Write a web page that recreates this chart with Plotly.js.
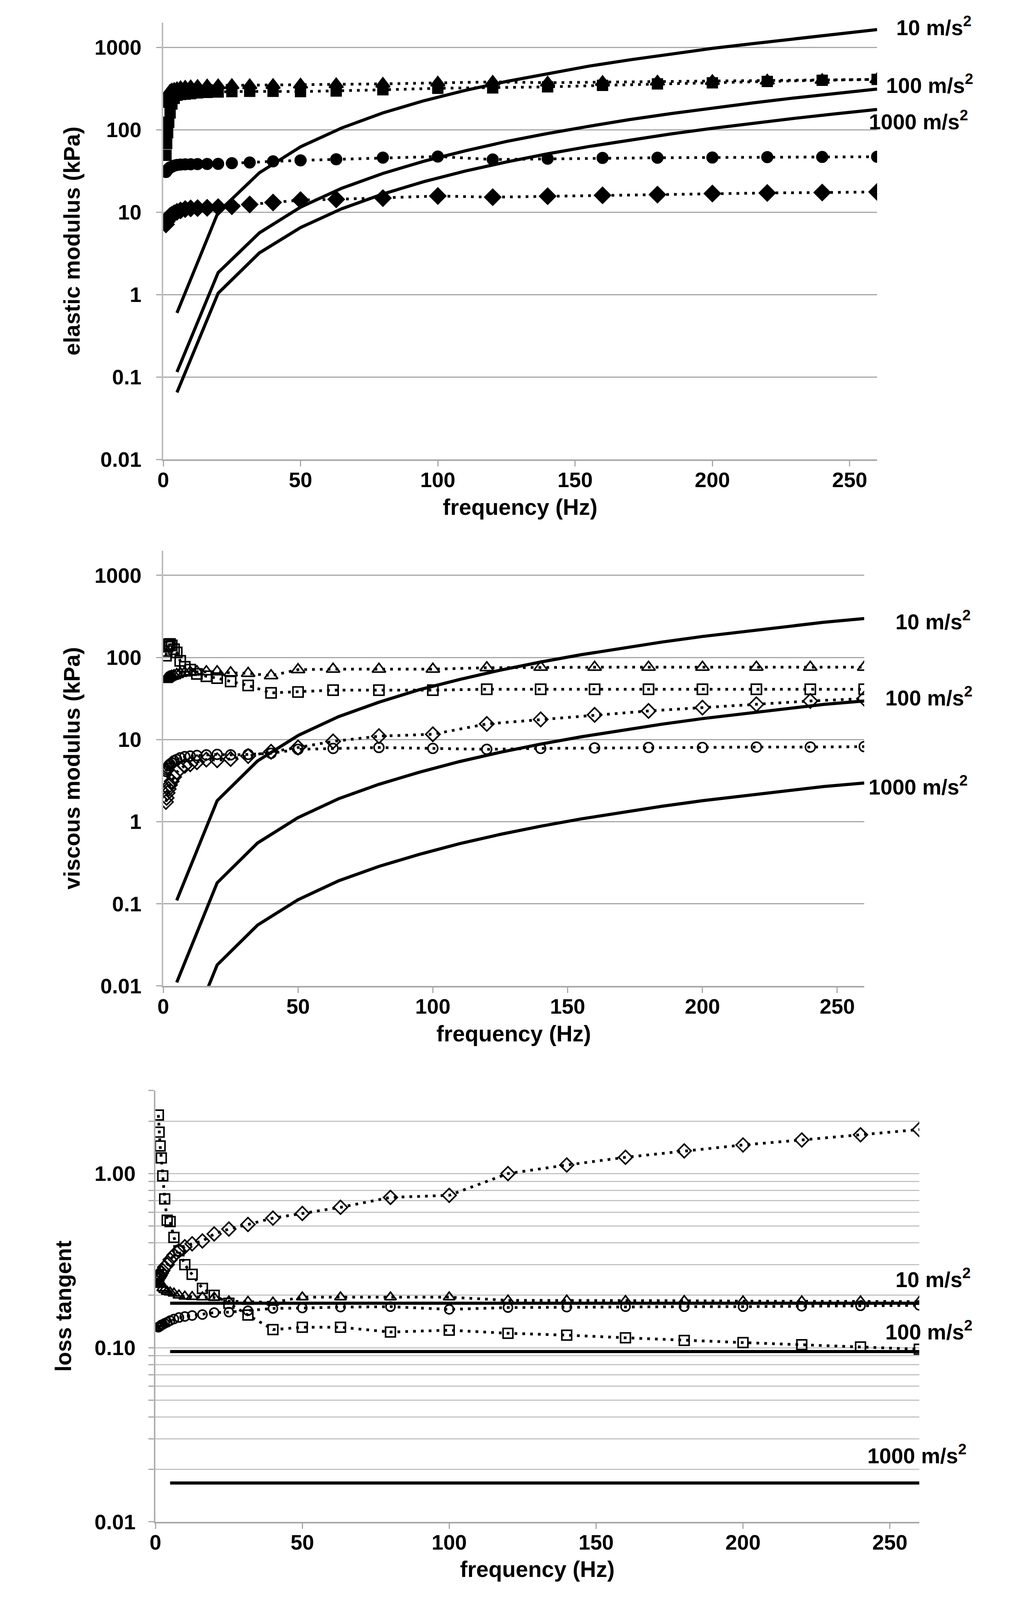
<!DOCTYPE html>
<html>
<head>
<meta charset="utf-8">
<script src="https://cdn.plot.ly/plotly-3.0.1.min.js"></script>
<style>html,body{margin:0;padding:0;background:#fff;overflow:hidden}</style>
</head>
<body>
<div id="chart"></div>
<script>
// measurement frequencies (Hz)
var freq = [1, 1.25, 1.6, 2, 2.5, 3.15, 4, 5, 6.3, 8, 10, 12.5, 16, 20, 25, 31.5, 40, 50, 63, 80, 100, 120, 140, 160, 180, 200, 220, 240, 260];
// model curve frequencies (Hz)
var modelFreq = [5, 20, 35, 50, 65, 80, 95, 110, 125, 140, 155, 170, 185, 200, 215, 230, 245, 260];
var lossModelFreq = [5, 260];

// elastic modulus (kPa)
var elasticTriangle = [205, 237, 262, 280, 296, 305, 310, 316, 326, 330, 334, 338, 342, 344, 346, 345, 347, 352, 355, 360, 372, 380, 372, 378, 382, 388, 393, 400, 408];
var elasticSquare = [49, 68, 92, 123, 160, 205, 240, 262, 268, 270, 274, 280, 284, 287, 290, 292, 292, 290, 295, 305, 318, 322, 331, 345, 360, 371, 385, 398, 408];
var elasticCircle = [30.7, 31.6, 32.6, 33.8, 34.9, 35.6, 36.7, 37.4, 37.8, 38.0, 38.1, 38.3, 38.4, 38.5, 39.3, 40.0, 41.3, 42.5, 43.8, 45.9, 47.3, 43.5, 44.5, 45.5, 45.7, 46.0, 46.5, 46.7, 47.0];
var elasticDiamond = [7.1, 7.7, 8.1, 8.5, 9.0, 9.3, 9.7, 10.1, 10.5, 10.9, 11.1, 11.2, 11.3, 11.5, 11.8, 12.4, 13.1, 14.0, 14.3, 14.8, 15.7, 15.2, 15.6, 16.0, 16.3, 16.8, 17.1, 17.3, 17.6];
var elasticModel10 = [0.6, 10, 30, 62, 105, 160, 225, 300, 385, 480, 590, 705, 830, 970, 1110, 1270, 1440, 1640];
var elasticModel100 = [0.115, 1.85, 5.6, 11.5, 19.5, 29.5, 41.5, 55.5, 72, 90, 110, 133, 157, 184, 212, 243, 276, 311];
var elasticModel1000 = [0.065, 1.04, 3.2, 6.5, 11, 16.6, 23.5, 31.5, 40.6, 51, 62.5, 75, 89, 104, 120, 137.5, 156, 176];

// viscous modulus (kPa)
var viscousTriangle = [54, 55, 56, 57, 58, 59, 60, 62, 64, 65, 66, 67, 67, 67, 65, 64, 60, 71, 72, 72, 72, 75, 76, 76, 76, 76, 76, 76, 76];
var viscousSquare = [105, 120, 135, 145, 146, 140, 126, 115, 91, 77, 71, 63, 59, 56, 51, 45.6, 37, 38, 40, 40, 40, 41, 41, 41, 41, 41, 41, 41, 41];
var viscousCircle = [4.1, 4.3, 4.5, 4.8, 5.0, 5.2, 5.5, 5.7, 6.0, 6.2, 6.3, 6.4, 6.5, 6.6, 6.5, 6.6, 6.8, 7.6, 7.8, 8.0, 7.8, 7.6, 7.8, 7.9, 8.0, 8.0, 8.1, 8.1, 8.2];
var viscousDiamond = [1.74, 1.95, 2.24, 2.5, 2.8, 3.1, 3.5, 4.0, 4.4, 4.8, 5.0, 5.3, 5.7, 5.6, 5.8, 6.3, 7.1, 8.0, 9.5, 11, 11.6, 15.5, 17.6, 20, 22.3, 24.5, 26.9, 29.5, 31.5];
var viscousModel10 = [0.11, 1.8, 5.5, 11.2, 19, 28.5, 40.5, 54, 70, 88, 108, 130, 154, 180, 207, 237, 268, 298];
var viscousModel100 = [0.011, 0.18, 0.55, 1.12, 1.9, 2.85, 4.0, 5.4, 7.0, 8.8, 10.8, 13, 15.4, 18, 20.7, 23.7, 26.8, 29.5];
var viscousModel1000 = [0.0011, 0.018, 0.055, 0.112, 0.19, 0.285, 0.40, 0.54, 0.70, 0.88, 1.08, 1.3, 1.54, 1.8, 2.07, 2.37, 2.68, 2.96];

// loss tangent
var lossTriangle = [0.25, 0.24, 0.235, 0.23, 0.22, 0.215, 0.21, 0.208, 0.205, 0.2, 0.197, 0.196, 0.195, 0.194, 0.185, 0.184, 0.182, 0.195, 0.195, 0.195, 0.195, 0.187, 0.187, 0.186, 0.186, 0.185, 0.185, 0.185, 0.184];
var lossSquare = [2.17, 1.73, 1.44, 1.23, 0.97, 0.715, 0.54, 0.53, 0.43, 0.36, 0.30, 0.264, 0.219, 0.20, 0.18, 0.154, 0.127, 0.131, 0.131, 0.123, 0.126, 0.121, 0.118, 0.114, 0.110, 0.107, 0.104, 0.101, 0.098];
var lossCircle = [0.131, 0.132, 0.133, 0.135, 0.136, 0.138, 0.14, 0.143, 0.146, 0.149, 0.151, 0.153, 0.155, 0.159, 0.160, 0.163, 0.168, 0.169, 0.171, 0.172, 0.166, 0.17, 0.171, 0.172, 0.172, 0.172, 0.173, 0.174, 0.175];
var lossDiamond = [0.25, 0.255, 0.26, 0.268, 0.277, 0.29, 0.30, 0.32, 0.34, 0.36, 0.38, 0.395, 0.41, 0.45, 0.48, 0.51, 0.555, 0.59, 0.64, 0.73, 0.75, 1.0, 1.12, 1.24, 1.35, 1.46, 1.56, 1.67, 1.79];
var lossModel10 = [0.180, 0.180];
var lossModel100 = [0.095, 0.095];
var lossModel1000 = [0.0167, 0.0167];

// axis ticks
var freqTicks = [0, 50, 100, 150, 200, 250];
var modulusTicks = [0.01, 0.1, 1, 10, 100, 1000];
var modulusTickText = ['0.01', '0.1', '1', '10', '100', '1000'];
var lossTicks = [0.01, 0.1, 1];
var lossTickText = ['0.01', '0.10', '1.00'];
var lossMinor = [0.02, 0.03, 0.04, 0.05, 0.06, 0.07, 0.08, 0.09, 0.2, 0.3, 0.4, 0.5, 0.6, 0.7, 0.8, 0.9, 2, 3];
var accelLabels = ['10 m/s<sup>2</sup>', '100 m/s<sup>2</sup>', '1000 m/s<sup>2</sup>'];

// positions below are measured on the 2594 x 4541 reference
var REF_W = 2594, REF_H = 4541;
var W = window.innerWidth || REF_W, H = window.innerHeight || REF_H;
var sy = H / REF_H;
function px(a) { return a / REF_W; }
function py(a) { return 1 - a / REF_H; }

var FONT = 'Liberation Sans, Arial, sans-serif';
var dotted = {color: '#000', width: 7, dash: '7px,13px'};

function dataTrace(x, y, ax, symbol, size) {
    return {
        x: x, y: y, xaxis: 'x' + ax, yaxis: 'y' + ax,
        type: 'scatter', mode: 'lines+markers',
        line: dotted,
        marker: {symbol: symbol, size: size, color: '#000', line: {color: '#000', width: 4}},
        showlegend: false
    };
}
function modelTrace(x, y, ax) {
    return {
        x: x, y: y, xaxis: 'x' + ax, yaxis: 'y' + ax,
        type: 'scatter', mode: 'lines',
        line: {color: '#000', width: 8},
        showlegend: false
    };
}

var traces = [
    dataTrace(freq, elasticTriangle, '', 'triangle-up', 31),
    dataTrace(freq, elasticSquare, '', 'square', 25),
    dataTrace(freq, elasticCircle, '', 'circle', 27),
    dataTrace(freq, elasticDiamond, '', 'diamond', 31),
    modelTrace(modelFreq, elasticModel10, ''),
    modelTrace(modelFreq, elasticModel100, ''),
    modelTrace(modelFreq, elasticModel1000, ''),

    dataTrace(freq, viscousTriangle, '2', 'triangle-up-open', 30),
    dataTrace(freq, viscousSquare, '2', 'square-open', 26),
    dataTrace(freq, viscousCircle, '2', 'circle-open', 25),
    dataTrace(freq, viscousDiamond, '2', 'diamond-open', 28),
    modelTrace(modelFreq, viscousModel10, '2'),
    modelTrace(modelFreq, viscousModel100, '2'),
    modelTrace(modelFreq, viscousModel1000, '2'),

    dataTrace(freq, lossTriangle, '3', 'triangle-up-open', 26),
    dataTrace(freq, lossSquare, '3', 'square-open', 25),
    dataTrace(freq, lossCircle, '3', 'circle-open', 23),
    dataTrace(freq, lossDiamond, '3', 'diamond-open', 27),
    modelTrace(lossModelFreq, lossModel10, '3'),
    modelTrace(lossModelFreq, lossModel100, '3'),
    modelTrace(lossModelFreq, lossModel1000, '3')
];

function boldFont(size) { return {family: FONT, size: size, color: '#000', weight: 700}; }

function xAxis(left, right, anchor) {
    return {
        domain: [px(left), px(right)], anchor: anchor,
        range: [0, 260], tickmode: 'array', tickvals: freqTicks,
        showgrid: false, zeroline: false,
        showline: true, linecolor: '#a8a8a8', linewidth: 4,
        ticks: 'outside', ticklen: Math.round(16 * sy), tickwidth: 3, tickcolor: '#a8a8a8',
        ticklabelstandoff: -12,
        tickfont: boldFont(54),
        title: {text: 'frequency (Hz)', font: boldFont(57), standoff: Math.round(24 * sy)}
    };
}
function yAxis(top, bottom, anchor, range, title) {
    return {
        type: 'log', domain: [py(bottom), py(top)], anchor: anchor,
        range: range, tickmode: 'array', tickvals: modulusTicks, ticktext: modulusTickText,
        showgrid: true, gridcolor: '#a8a8a8', gridwidth: 3,
        showline: true, linecolor: '#bdbdbd', linewidth: 4,
        ticks: 'outside', ticklen: 14, tickwidth: 3, tickcolor: '#a8a8a8',
        ticklabelstandoff: 27,
        tickfont: boldFont(54),
        title: {text: title, font: boldFont(57), standoff: 20}
    };
}

var y3 = yAxis(3095, 4319, 'x3', [-2, Math.log10(3)], 'loss tangent');
y3.tickvals = lossTicks;
y3.ticktext = lossTickText;
y3.gridcolor = '#c4c4c4';
y3.linecolor = '#b0b0b0';
y3.ticklabelstandoff = 22;
y3.title.standoff = 42;
y3.minor = {tickmode: 'array', tickvals: lossMinor, showgrid: true, gridcolor: '#c4c4c4', gridwidth: 3,
            ticks: 'outside', ticklen: 14, tickwidth: 3, tickcolor: '#a8a8a8'};

function label(text, xr, yc) {
    return {
        text: text, xref: 'paper', yref: 'paper', x: px(xr), y: py(yc),
        xanchor: 'right', yanchor: 'middle', showarrow: false,
        font: boldFont(55)
    };
}

var layout = {
    width: W, height: H,
    margin: {l: 0, r: 0, t: 0, b: 0},
    paper_bgcolor: '#fff', plot_bgcolor: '#fff',
    font: {family: FONT, color: '#000'},
    showlegend: false,
    xaxis: xAxis(418, 2246, 'y'),
    yaxis: yAxis(64, 1304, 'x', [-2, 3.3], 'elastic modulus (kPa)'),
    xaxis2: xAxis(418, 2213, 'y2'),
    yaxis2: yAxis(1563, 2798, 'x2', [-2, 3.3], 'viscous modulus (kPa)'),
    xaxis3: xAxis(398, 2354, 'y3'),
    yaxis3: y3,
    annotations: [
        label(accelLabels[0], 2490, 74),
        label(accelLabels[1], 2494, 238),
        label(accelLabels[2], 2481, 342),
        label(accelLabels[0], 2488, 1761),
        label(accelLabels[1], 2492, 1977),
        label(accelLabels[2], 2480, 2230),
        label(accelLabels[0], 2488, 3628),
        label(accelLabels[1], 2492, 3776),
        label(accelLabels[2], 2477, 4128)
    ]
};

var el = document.getElementById('chart');
el.style.width = W + 'px';
el.style.height = H + 'px';
Plotly.newPlot(el, traces, layout, {staticPlot: true});
</script>
</body>
</html>
